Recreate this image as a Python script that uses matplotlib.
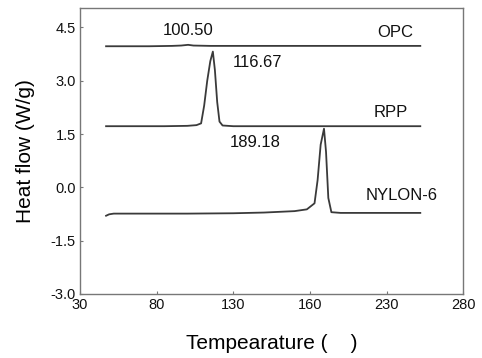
import matplotlib.pyplot as plt

plt.rcParams['font.family'] = ['Liberation Sans', 'DejaVu Sans']

# DSC curves (temperature, heat flow)
opc_t = [47, 60, 75, 90, 96, 100.5, 104, 115, 140, 170, 200, 230, 252]
opc_q = [3.97, 3.97, 3.97, 3.98, 3.99, 4.01, 3.99, 3.98, 3.98, 3.98, 3.98, 3.98, 3.98]

rpp_t = [47, 65, 85, 100, 106, 109, 111, 113, 115, 116.67, 118, 119.5, 121, 123, 130, 150, 180, 210, 235, 252]
rpp_q = [1.72, 1.72, 1.72, 1.73, 1.75, 1.80, 2.30, 3.00, 3.55, 3.82, 3.30, 2.40, 1.85, 1.74, 1.72, 1.72, 1.72, 1.72, 1.72, 1.72]

nylon_t = [47, 49, 52, 70, 100, 130, 150, 170, 178, 183, 185, 187, 189.18, 190.5, 192, 194, 200, 220, 240, 252]
nylon_q = [-0.80, -0.76, -0.74, -0.74, -0.74, -0.73, -0.71, -0.67, -0.62, -0.45, 0.20, 1.20, 1.65, 1.00, -0.30, -0.70, -0.72, -0.72, -0.72, -0.72]

xticks = [30, 80, 130, 180, 230, 280]
xtick_labels = ['30', '80', '130', '160', '230', '280']
yticks = [-3.0, -1.5, 0.0, 1.5, 3.0, 4.5]

fig = plt.figure(figsize=(4.82, 3.58), dpi=100)
ax = fig.add_axes([0.166, 0.179, 0.795, 0.799])

line_kw = dict(color='#3a3a3a', lw=1.3)
ax.plot(opc_t, opc_q, **line_kw)
ax.plot(rpp_t, rpp_q, **line_kw)
ax.plot(nylon_t, nylon_q, **line_kw)

txt_kw = dict(ha='center', va='center', fontsize=12, color='#111111')
ax.text(100.5, 4.42, '100.50', **txt_kw)
ax.text(145.5, 3.52, '116.67', **txt_kw)
ax.text(144.2, 1.27, '189.18', **txt_kw)
ax.text(235.6, 4.36, 'OPC', **txt_kw)
ax.text(233, 2.11, 'RPP', **txt_kw)
ax.text(239.5, -0.22, 'NYLON-6', **txt_kw)

ax.set_xlim(30, 280)
ax.set_ylim(-3.0, 5.05)
ax.set_xticks(xticks)
ax.set_xticklabels(xtick_labels)
ax.set_yticks(yticks)
ax.set_yticklabels(['%.1f' % v for v in yticks])
ax.tick_params(direction='in', length=2, width=0.8, labelsize=10.5, colors='#777777', labelcolor='#111111')
ax.tick_params(axis='x', pad=3)
ax.tick_params(axis='y', pad=3)

for s in ax.spines.values():
    s.set_color('#777777')
    s.set_linewidth(1.0)

ax.set_xlabel('Tempearature (    )', fontsize=15, labelpad=16)
ax.set_ylabel('Heat flow (W/g)', fontsize=15, labelpad=11)

fig.savefig('out.png', dpi=100)
